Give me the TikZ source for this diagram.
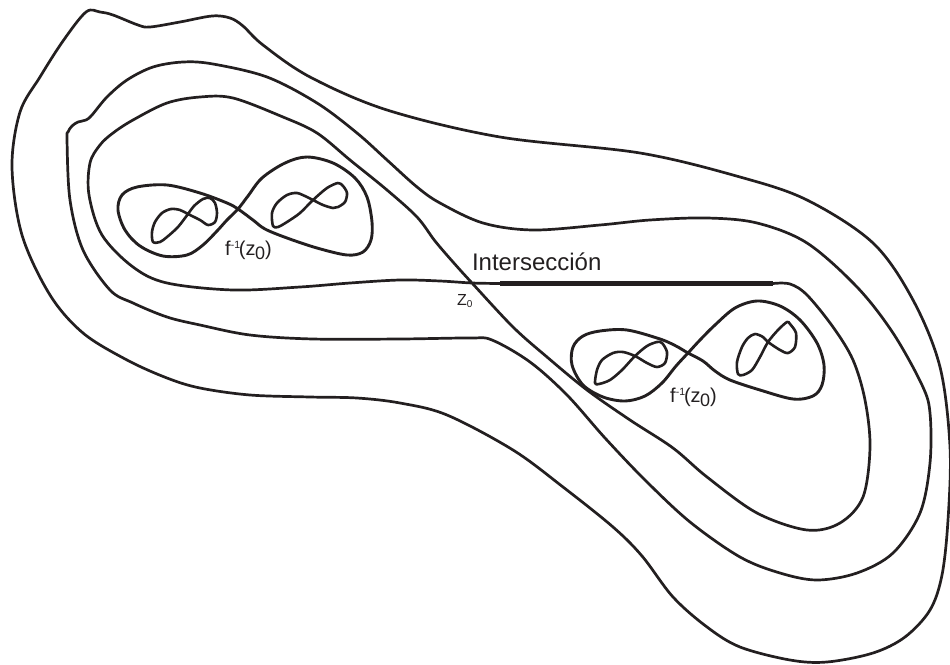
\documentclass[tikz,border=0pt]{standalone}
\usepackage{fontspec}
\setmainfont{Liberation Sans}
\definecolor{ink}{RGB}{35,31,32}
\tikzset{
  rim/.style={draw=ink, line width=2.7pt, line join=round, line cap=round},
  eightline/.style={draw=ink, line width=2.9pt, line join=round, line cap=round},
  tinyeight/.style={draw=ink, line width=2.6pt, line join=round, line cap=round},
  meetline/.style={draw=ink, line width=4.2pt},
  lab/.style={inner sep=0pt, outer sep=0pt, text=ink, anchor=base west},
}
% preimage label f^{-1}(z_0)
\newcommand{\preimlabel}{{\fontsize{20}{20}\selectfont f\kern0.3pt\raisebox{6.6pt}{\fontsize{10.5}{10.5}\selectfont -1}\kern-1.2pt(z\kern-0.5pt\raisebox{-4.8pt}{\fontsize{18}{18}\selectfont 0})}}
\begin{document}
\begin{tikzpicture}[x=1pt,y=-1pt]
\useasboundingbox (0,0) rectangle (950,664);

% outer boundary
\draw[rim] plot[smooth cycle, tension=0.55] coordinates {
 (86,12) (100,12) (113,15) (138,25) (150,27) (180,22) (212,16) (230,18) (243,26)
 (263,45) (310,77) (387,110) (500,137) (640,153) (740,177) (807,200) (873,243)
 (913,300) (940,367) (950,447) (948,520) (942,575) (930,610) (905,637) (873,653)
 (827,662) (790,660) (740,647) (707,627) (673,597) (642,556) (613,527) (563,487)
 (513,450) (447,415) (400,403) (357,398) (310,397) (250,395) (200,388) (167,378)
 (127,360) (83,333) (50,295) (22,235) (12,167) (20,112) (40,77) (63,41)};

% middle ring
\draw[rim] plot[smooth cycle, tension=0.55] coordinates {
 (67,140) (70,200) (83,250) (110,290) (133,303) (167,317) (200,325) (250,335)
 (313,339) (400,339) (470,338) (492,340) (530,362) (567,395) (605,438) (645,480)
 (690,522) (740,557) (780,573) (817,580) (857,573) (893,553) (920,513)
 (930,463) (930,413) (922,385) (893,333) (857,287) (807,243) (757,223) (707,218)
 (650,220) (600,225) (533,230) (483,223) (440,203) (417,187) (387,160) (357,133)
 (317,103) (267,77) (213,64) (183,62) (153,67) (127,80) (107,97) (92,115)
 (86,120) (78,122) (72,126) (68,132)};

% self-crossing curve through z0
\coordinate (z0) at (472,283);
\coordinate (meetL) at (500,283.5);
\coordinate (meetR) at (773,283.5);
\draw[rim] plot[smooth, tension=0.55] coordinates {
 (500,283.5) (472,283) (440,281) (400,280) (350,283) (300,287) (233,290) (167,283)
 (133,267) (102,235) (89,195) (90,163) (100,145) (113,133) (133,120) (167,103)
 (200,97) (233,98) (283,117) (317,133) (350,160) (387,190) (417,217) (435,241)
 (453,262) (472,283) (513,327) (547,357) (587,390) (630,420) (673,448) (707,477)
 (757,513) (807,530) (840,523) (863,497) (870,447) (865,400) (853,360) (833,327)
 (807,295) (790,284) (773,283.5)};
\draw[meetline] (meetL) -- (meetR);

% left figure eight
\draw[eightline] plot[smooth cycle, tension=0.55] coordinates {
 (238,209) (253,220) (265,229) (287,238) (317,248) (347,255) (363,252) (371,240)
 (372,222) (367,197) (355,178) (333,163) (307,157) (285,163) (262,178) (248,196)
 (238,209) (227,220) (217,231) (203,245) (187,255) (163,256) (140,246) (125,230)
 (118,210) (122,195) (137,187) (167,185) (200,193) (227,203)};
\draw[tinyeight] plot[smooth cycle, tension=0.5] coordinates {
 (153,242) (152,232) (155,222) (162,213) (171,209) (180,210) (188,214) (200,220)
 (208,225) (215,222) (217,213) (215,203) (210,198) (203,199) (194,206) (188,214)
 (178,227) (167,237) (160,242)};
\draw[tinyeight] plot[smooth cycle, tension=0.5] coordinates {
 (273,226) (272,213) (277,203) (287,195) (297,193) (307,197) (313,200) (323,205)
 (333,208) (338,207) (345,202) (347,193) (343,186) (338,183) (327,188) (313,200)
 (300,213) (287,222) (278,227)};

% right figure eight
\draw[eightline] plot[smooth cycle, tension=0.55] coordinates {
 (688,353) (703,361) (715,371) (730,380) (760,390) (793,399) (813,396) (822,385)
 (824,365) (817,343) (800,320) (780,306) (757,301) (735,308) (715,325) (700,340)
 (688,353) (676,366) (662,383) (645,396) (625,401) (603,397) (583,385) (572,365)
 (573,347) (583,336) (600,331) (627,330) (660,339) (676,346)};
\draw[tinyeight] plot[smooth cycle, tension=0.5] coordinates {
 (595,383) (597,370) (602,360) (613,353) (623,352) (635,356) (647,363) (657,367)
 (665,363) (667,352) (662,343) (657,342) (647,346) (635,356) (622,370) (610,380)
 (599,384)};
\draw[tinyeight] plot[smooth cycle, tension=0.5] coordinates {
 (738,374) (737,362) (742,347) (748,338) (755,334) (763,337) (768,342) (780,350)
 (788,353) (795,347) (796,333) (790,324) (787,322) (778,330) (768,342) (760,357)
 (752,370) (743,375)};

% labels
\node[lab] (meetlabel) at (472,270) {\fontsize{24}{24}\selectfont Intersección};
\node[lab] (zlabel) at (457,305) {\fontsize{16}{16}\selectfont Z\raisebox{-2.3pt}{\fontsize{10}{10}\selectfont 0}};
\node[lab] (preleft) at (225,255) {\preimlabel};
\node[lab] (preright) at (670,402) {\preimlabel};
\end{tikzpicture}
\end{document}
